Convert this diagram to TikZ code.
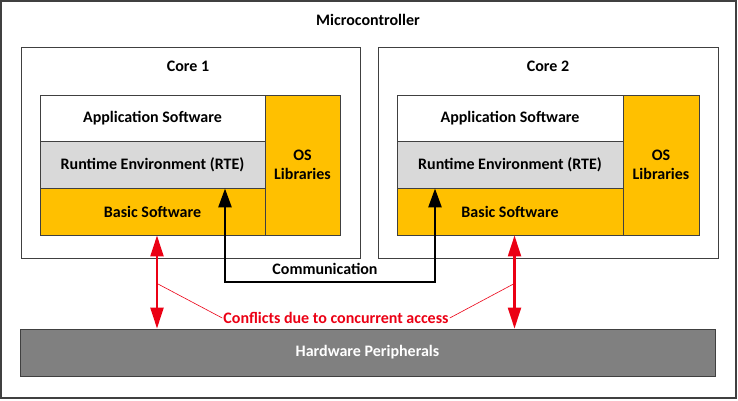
\documentclass[tikz,border=0pt]{standalone}
\usepackage{fontspec}
\setmainfont{Carlito}
\usepackage{xcolor}
\usetikzlibrary{arrows.meta}

\definecolor{bswyellow}{RGB}{255,192,0}
\definecolor{rtegray}{RGB}{217,217,217}
\definecolor{hwgray}{RGB}{128,128,128}
\definecolor{framegray}{RGB}{64,64,64}
\definecolor{conflictred}{RGB}{235,0,20}

\tikzset{
	layer/.style={draw=framegray,line width=0.9pt,inner sep=0pt,align=center,font=\bfseries\fontsize{16}{19}\selectfont},
	corebox/.style={draw=framegray,line width=0.9pt,inner sep=0pt},
	label/.style={font=\bfseries\fontsize{16}{19}\selectfont,inner sep=1pt},
	commarrow/.style={line width=2.6pt,{Triangle[length=19pt,width=13pt]}-{Triangle[length=19pt,width=13pt]}},
	accessarrow/.style={conflictred,line width=2.2pt,{Triangle[length=21pt,width=13pt]}-{Triangle[length=21pt,width=13pt]}}
}

\begin{document}
\begin{tikzpicture}[x=1pt,y=-1pt]
			\useasboundingbox (0,0) rectangle (738,400);
			\draw[framegray,line width=1.2pt] (1,1) rectangle (736,398);
			\node[label] (mcu) at (368,20) {Microcontroller};

			% core 1
			\node[corebox,minimum width=339pt,minimum height=211pt] (core1) at (190.5,152.5) {};
			\node[label] (core1label) at (188,66) {Core 1};
			\node[layer,fill=white,minimum width=225pt,minimum height=46pt] (app1) at (152.5,118) {Application Software};
			\node[layer,fill=rtegray,minimum width=225pt,minimum height=47pt] (rte1) at (152.5,164.5) {Runtime Environment (RTE)};
			\node[layer,fill=bswyellow,minimum width=225pt,minimum height=47pt] (bsw1) at (152.5,211.5) {Basic Software};
			\node[layer,fill=bswyellow,minimum width=75pt,minimum height=140pt] (os1) at (302.5,165) {OS\\Libraries};

			% core 2
			\node[corebox,minimum width=340pt,minimum height=211pt] (core2) at (548,152.5) {};
			\node[label] (core2label) at (548,66) {Core 2};
			\node[layer,fill=white,minimum width=226pt,minimum height=46pt] (app2) at (510,118) {Application Software};
			\node[layer,fill=rtegray,minimum width=226pt,minimum height=47pt] (rte2) at (510,164.5) {Runtime Environment (RTE)};
			\node[layer,fill=bswyellow,minimum width=226pt,minimum height=47pt] (bsw2) at (510,211.5) {Basic Software};
			\node[layer,fill=bswyellow,minimum width=76pt,minimum height=140pt] (os2) at (661,165) {OS\\Libraries};

			% hardware
			\node[layer,fill=hwgray,text=white,minimum width=695pt,minimum height=47pt] (hw) at (367.5,352.5) {Hardware Peripherals};

			% communication
			\coordinate (commline) at (330,282);
			\draw[commarrow] ([xshift=72.5pt]rte1.south) |- (commline) -| ([xshift=-75pt]rte2.south);
			\node[label] (comm) at (325,269) {Communication};

			% concurrent access
			\draw[accessarrow] ([xshift=4.5pt]bsw1.south) -- ([xshift=4.5pt]bsw1.south |- hw.north);
			\draw[accessarrow] ([xshift=4.5pt]bsw2.south) -- ([xshift=4.5pt]bsw2.south |- hw.north);
			\node[label,text=conflictred] (conflict) at (336,318) {Conflicts due to concurrent access};
			\draw[conflictred,line width=0.6pt] ([xshift=4.5pt,yshift=-48pt]bsw1.south) -- (conflict.west);
			\draw[conflictred,line width=0.6pt] (conflict.east) -- ([xshift=4.5pt,yshift=-48pt]bsw2.south);
		\end{tikzpicture}
\end{document}
